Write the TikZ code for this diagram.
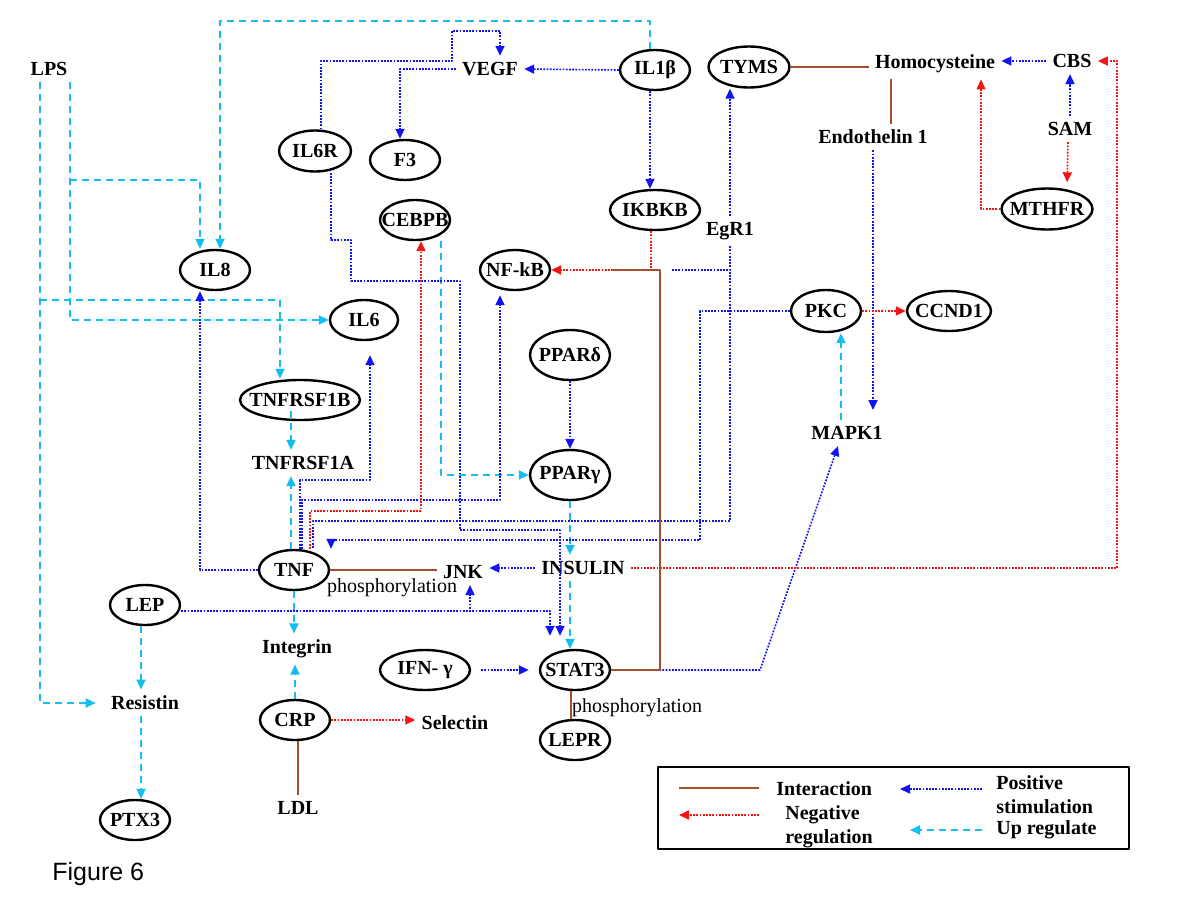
\documentclass[tikz,border=0pt]{standalone}
\usepackage{fontspec}
\setmainfont{Liberation Serif}
\newfontfamily\figfont{Liberation Sans}
\usetikzlibrary{shapes.geometric,arrows.meta}
\definecolor{interbrown}{RGB}{165,80,45}
\definecolor{negred}{RGB}{245,20,20}
\definecolor{posblue}{RGB}{20,20,240}
\definecolor{upcyan}{RGB}{20,190,240}
\begin{document}
\begin{tikzpicture}[
	x=0.5pt, y=-0.5pt, line join=round,
	every node/.style={font=\fontsize{10}{12}\selectfont\bfseries},
	gene/.style={ellipse, draw, line width=1.2pt, inner sep=0pt,
		minimum width=35pt, minimum height=20pt,
		execute at begin node={\setbox0=\hbox\bgroup},
		execute at end node={\egroup\hbox to 0pt{\hss\box0\hss}}},
	lbl/.style={inner sep=3pt},
	phos/.style={inner sep=1pt, font=\fontsize{10}{12}\selectfont},
	arrtip/.style={-{Triangle[length=5pt,width=4.5pt]}},
	interline/.style={interbrown, line width=0.75pt},
	negarr/.style={negred, line width=0.8pt, dash pattern=on 0.9pt off 0.7pt, arrtip},
	posarr/.style={posblue, line width=0.8pt, dash pattern=on 0.9pt off 0.7pt, arrtip},
	uparr/.style={upcyan, line width=0.9pt, dash pattern=on 3.5pt off 2.5pt, arrtip},
	]
	\path[fill=white] (0,0) rectangle (1200,900);
	\useasboundingbox (0,0) rectangle (1200,900);

	% genes in ellipses
	\node[gene] (IL1b) at (655,70) {IL1β};
	\node[gene, minimum width=40.5pt, minimum height=20.5pt] (TYMS) at (749,67) {TYMS};
	\node[gene, minimum width=45.5pt, minimum height=20.5pt] (MTHFR) at (1047,209) {MTHFR};
	\node[gene, minimum width=36pt, minimum height=20.5pt] (IL6R) at (315,151) {IL6R};
	\node[gene] (F3) at (405,160) {F3};
	\node[gene] (CEBPB) at (415,220) {CEBPB};
	\node[gene, minimum width=45pt] (IKBKB) at (655,210) {IKBKB};
	\node[gene] (NFkB) at (515,270) {NF-kB};
	\node[gene] (IL8) at (215,270) {IL8};
	\node[gene, minimum width=34pt] (IL6) at (364,320) {IL6};
	\node[gene, minimum height=21pt] (PKC) at (826,311) {PKC};
	\node[gene, minimum width=42pt] (CCND1) at (949,311) {CCND1};
	\node[gene, minimum width=40pt, minimum height=25pt] (PPARd) at (570,355) {PPARδ};
	\node[gene, minimum width=40pt, minimum height=25pt] (PPARg) at (570,475) {PPARγ};
	\node[gene, minimum width=60pt] (TNFRSF1B) at (300,400) {TNFRSF1B};
	\node[gene] (TNF) at (294,570) {TNF};
	\node[gene] (LEP) at (145,605) {LEP};
	\node[gene, minimum width=45pt] (IFNg) at (425,670) {IFN- γ};
	\node[gene] (STAT3) at (575,670) {STAT3};
	\node[gene] (CRP) at (295,720) {CRP};
	\node[gene] (LEPR) at (575,740) {LEPR};
	\node[gene] (PTX3) at (135,820) {PTX3};

	% plain labels
	\node[lbl] (LPS) at (49,69) {LPS};
	\node[lbl] (VEGF) at (490,69) {VEGF};
	\node[lbl] (Homo) at (935,64) {Homocysteine};
	\node[lbl] (CBS) at (1072,61) {CBS};
	\node[lbl] (SAM) at (1070,129) {SAM};
	\node[lbl] (Endo) at (873,137) {Endothelin 1};
	\node[lbl] (EgR1) at (730,231) {EgR1};
	\node[lbl] (TNFRSF1A) at (303,463) {TNFRSF1A};
	\node[lbl] (MAPK1) at (847,433) {MAPK1};
	\node[lbl] (INSULIN) at (583,568) {INSULIN};
	\node[lbl] (JNK) at (463,572) {JNK};
	\node[lbl] (Integrin) at (297,649) {Integrin};
	\node[lbl] (Resistin) at (145,703) {Resistin};
	\node[lbl] (Selectin) at (455,723) {Selectin};
	\node[lbl] (LDL) at (298,808) {LDL};
	\node[phos] (phosA) at (392,588) {phosphorylation};
	\node[phos] (phosB) at (637,708) {phosphorylation};

	\coordinate (lpsJa) at (40,300);
	\coordinate (lpsJb) at (70,180);
	\coordinate (egrStub) at (672,270);

	% up regulate
	\draw[uparr] ([xshift=-4.5pt]LPS.south) |- ([xshift=-4.5pt]Resistin.west);
	\draw[uparr] (lpsJa) -| ([xshift=-10pt]TNFRSF1B.north);
	\draw[uparr] ([xshift=10.5pt]LPS.south) |- (IL6.west);
	\draw[uparr] (lpsJb) -| ([xshift=-7.5pt]IL8.north);
	\draw[uparr] ([xshift=-2.5pt]IL1b.north) |- (220,21) -- ([xshift=2.5pt]IL8.north);
	\draw[uparr] ([xshift=-4.5pt,yshift=5pt]TNFRSF1B.south) -- ([xshift=-6pt]TNFRSF1A.north);
	\draw[uparr] ([xshift=-1.5pt]TNF.north) -- ([xshift=-6pt]TNFRSF1A.south);
	\draw[uparr] (TNF.south) -- (TNF.south |- Integrin.north);
	\draw[uparr] (CRP.north) -- (CRP.north |- Integrin.south);
	\draw[uparr] ([xshift=-2pt]LEP.south) -- ([xshift=-2pt]Resistin.north);
	\draw[uparr] ([xshift=-2pt]Resistin.south) -- ([xshift=3pt]PTX3.north);
	\draw[uparr] ([xshift=13pt]CEBPB.south) |- (PPARg.west);
	\draw[uparr] (PPARg.south) -- (PPARg.south |- INSULIN.north);
	\draw[uparr] (PPARg.south |- INSULIN.south) -- (PPARg.south |- STAT3.north);
	\draw[uparr] ([xshift=-3pt]MAPK1.north) -- ([xshift=7.5pt]PKC.south);

	% positive stimulation
	\draw[posarr] (IL1b.west) -- (VEGF.east);
	\draw[posarr] ([xshift=-2.5pt]IL1b.south) -- ([xshift=-2.5pt]IKBKB.north);
	\draw[posarr] ([xshift=3pt]IL6R.north) |- (452,61) -- (452,31) -| ([xshift=5pt]VEGF.north);
	\draw[posarr] (VEGF.west) -| ([xshift=-2.5pt]F3.north);
	\draw[posarr] ([xshift=8pt]IL6R.south) |- (351,240) |- (460,281) |- (560,530) -- ([xshift=-7.5pt,yshift=6.5pt]STAT3.north);
	\draw[posarr] ([yshift=-3pt]LEP.east) -| ([xshift=-12.5pt,yshift=6.5pt]STAT3.north);
	\draw[posarr] ([yshift=-3pt]LEP.east) -| ([xshift=3.5pt]JNK.south);
	\draw[posarr, shorten <=5pt, shorten >=5pt] (IFNg.east) -- (STAT3.west);
	\draw[posarr] (INSULIN.west) -- (INSULIN.west -| JNK.east);
	\draw[posarr] (PPARd.south) -- (PPARg.north);
	\draw[posarr] (TNF.west) -| ([xshift=-7.5pt]IL8.south);
	\draw[posarr] ([xshift=3pt]TNF.north) |- (370,480) -- ([xshift=3pt,yshift=-7pt]IL6.south);
	\draw[posarr] ([xshift=4pt]TNF.north) |- (500,500) -- ([xshift=-7.5pt,yshift=-2pt]NFkB.south);
	\draw[posarr] (PKC.west) -| (700,540) -| ([xshift=18.5pt]TNF.north);
	\draw[posarr, -] (EgR1.south) |- (313,521) -- ([xshift=9.5pt]TNF.north);
	\draw[posarr] (EgR1.north) -- (EgR1.north |- TYMS.south);
	\draw[posarr, -] (egrStub) -- (egrStub -| EgR1.south);
	\draw[posarr, shorten >=5pt] (Endo.south) -- (Endo.south |- MAPK1.north);
	\draw[posarr] (SAM.north) -- (SAM.north |- CBS.south);
	\draw[posarr] (CBS.west) -- (CBS.west -| Homo.east);
	\draw[posarr] (STAT3.east) -- (760,670) -- ([xshift=-4.5pt]MAPK1.south);

	% negative regulation
	\draw[negarr] ([xshift=-2pt]IKBKB.south) |- (NFkB.east);
	\draw[negarr] ([xshift=8pt]TNF.north) |- (421,511) -- ([xshift=3pt]CEBPB.south);
	\draw[negarr] (CRP.east) -- (CRP.east -| Selectin.west);
	\draw[negarr] (PKC.east) -- (CCND1.west);
	\draw[negarr, shorten >=2.5pt] ([xshift=-1pt]SAM.south) -- ([xshift=10pt]MTHFR.north);
	\draw[negarr] (MTHFR.west) -| ([xshift=23pt]Homo.south);
	\draw[negarr] (INSULIN.east) -- (1117,568) |- (CBS.east);

	% interaction
	\draw[interline] (TYMS.east) -- (TYMS.east -| Homo.west);
	\draw[interline] ([xshift=-22pt]Homo.south) -- ([xshift=9pt]Endo.north);
	\draw[interline] (TNF.east) -- (TNF.east -| JNK.west);
	\draw[interline] (STAT3.east) -| (660,270) -- ([xshift=30pt]NFkB.east);
	\draw[interline] ([xshift=-2pt]STAT3.south) -- ([xshift=-2pt]LEPR.north);
	\draw[interline] ([xshift=1.5pt]CRP.south) -- (LDL.north);

	% legend
	\draw[line width=0.6pt] (658,767) rectangle (1129,849);
	\draw[interline] (679,788) -- (759,788);
	\node[lbl, anchor=west] (kInter) at (770,789) {Interaction};
	\draw[negarr] (759,815) -- (679,815);
	\node[lbl, anchor=west, align=left] (kNeg) at (779,827) {Negative\\regulation};
	\draw[posarr] (982,789) -- (900,789);
	\node[lbl, anchor=west, align=left] (kPos) at (990,795) {Positive\\stimulation};
	\draw[uparr] (982,830) -- (910,830);
	\node[lbl, anchor=west] (kUp) at (990,830) {Up regulate};

	\node[anchor=west, inner sep=0pt, font=\figfont\fontsize{12.5}{14}\selectfont] (figlbl) at (52,874) {Figure 6};
\end{tikzpicture}
\end{document}
